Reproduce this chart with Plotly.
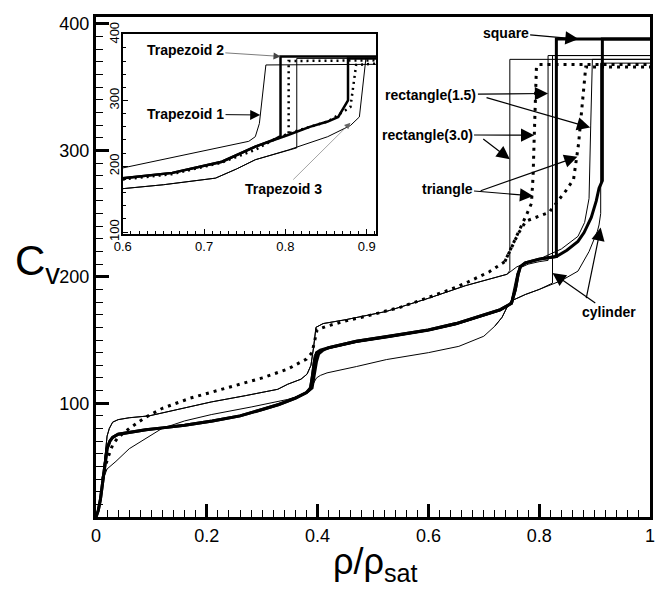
import plotly.graph_objects as go

# ---------------- main plot data (rho/rho_sat , Cv) ----------------
square_x = [0.0, 0.004, 0.008, 0.012, 0.016, 0.02, 0.025, 0.03, 0.04, 0.06, 0.09, 0.12, 0.16, 0.21, 0.26, 0.3,
            0.33, 0.36, 0.38, 0.387, 0.391, 0.394, 0.398, 0.405, 0.42, 0.47, 0.53, 0.6, 0.65, 0.7, 0.73, 0.75,
            0.757, 0.762, 0.766, 0.775, 0.8, 0.831, 0.831, 1.0]
square_y = [10, 15, 24, 36, 50, 64, 70, 73, 75.5, 77, 79, 80.5, 82.5, 86, 90, 95,
            99, 104, 108.5, 112, 122, 133, 140, 142, 144, 149, 153, 158, 163, 170, 174, 179,
            190, 202, 208, 211, 214, 216, 388, 388]

thick2_x = [0.0, 0.004, 0.008, 0.012, 0.016, 0.02, 0.025, 0.03, 0.04, 0.06, 0.09, 0.12, 0.16, 0.21, 0.26, 0.3,
            0.33, 0.36, 0.38, 0.39, 0.394, 0.398, 0.402, 0.41, 0.42, 0.47, 0.53, 0.6, 0.65, 0.7, 0.73, 0.75,
            0.757, 0.762, 0.766, 0.775, 0.8, 0.831, 0.85, 0.87, 0.881, 0.894, 0.903, 0.908, 0.914, 0.914, 1.0]
thick2_y = [10, 15, 24, 36, 50, 64, 70, 73, 75.5, 77, 79, 80.5, 82.5, 86, 90, 95,
            99, 104, 108.5, 112, 124, 133, 139, 142, 144, 149, 153, 158, 163, 170, 174, 179,
            190, 202, 208, 211, 214, 216, 221, 228, 235, 247, 260, 270, 276, 388, 388]

dot1_x = [0.012, 0.016, 0.02, 0.025, 0.03, 0.04, 0.06, 0.09, 0.12, 0.17, 0.226, 0.257, 0.3, 0.346, 0.38, 0.39,
          0.395, 0.399, 0.417, 0.45, 0.494, 0.55, 0.596, 0.64, 0.672, 0.71, 0.738, 0.75, 0.765, 0.778, 0.786,
          0.789, 0.791, 0.793, 0.795, 0.8, 1.0]
dot1_y = [40, 48, 55, 61, 67, 73, 80, 89, 96, 104, 111, 115, 120, 127, 135, 140,
          150, 158, 161, 165, 169.5, 176, 183, 190, 196, 204, 212, 223, 238, 250, 258,
          280, 310, 340, 366, 368, 368]

dot2_x = [0.738, 0.75, 0.762, 0.776, 0.818, 0.848, 0.862, 0.871, 0.876, 0.88, 0.884, 1.0]
dot2_y = [212, 223, 234, 244, 251, 268, 277, 305, 330, 352, 366, 366]

thinup_x = [0.0, 0.006, 0.011, 0.015, 0.018, 0.02, 0.024, 0.03, 0.04, 0.06, 0.096, 0.167, 0.208, 0.27, 0.328,
            0.346, 0.37, 0.381, 0.388, 0.393, 0.397, 0.41, 0.45, 0.524, 0.6, 0.667, 0.71, 0.742, 0.747, 0.747, 1.0]
thinup_y = [10, 20, 35, 52, 65, 74, 80, 85, 87, 88.5, 90, 97, 101, 106, 111,
            115, 119, 123, 130, 145, 160, 163, 166, 172.6, 183, 193, 198, 202, 205, 372, 372]

rect15b_x = [0.0, 0.006, 0.011, 0.015, 0.018, 0.02, 0.024, 0.03, 0.04, 0.06, 0.096, 0.167, 0.208, 0.27, 0.328,
             0.346, 0.37, 0.381, 0.388, 0.393, 0.397, 0.41, 0.45, 0.524, 0.6, 0.667, 0.71, 0.742, 0.76, 0.8,
             0.84, 0.87, 0.882, 0.89, 0.893, 0.896, 1.0]
rect15b_y = [10, 20, 35, 52, 65, 74, 80, 85, 87, 88.5, 90, 97, 101, 106, 111,
             115, 119, 123, 130, 145, 160, 163, 166, 172.6, 183, 193, 198, 202, 208, 214,
             222, 232, 243, 262, 320, 372, 372]

rect15a_x = [0.36, 0.38, 0.386, 0.39, 0.394, 0.4, 0.42, 0.47, 0.53, 0.6, 0.65, 0.7, 0.73, 0.748, 0.755, 0.76,
             0.765, 0.78, 0.8, 0.816, 0.816, 1.0]
rect15a_y = [104, 108.5, 113, 126, 138, 141, 143, 148, 152, 157, 162, 169, 173, 178, 192, 203,
             207, 210, 212, 213, 375, 375]

thinlow_x = [0.0, 0.004, 0.008, 0.012, 0.02, 0.036, 0.06, 0.09, 0.119, 0.16, 0.208, 0.28, 0.346, 0.375, 0.387,
             0.393, 0.398, 0.405, 0.417, 0.47, 0.524, 0.6, 0.655, 0.7, 0.72, 0.733, 0.742, 0.75, 0.775, 0.8,
             0.84, 0.87, 0.89, 0.905, 0.908, 0.911, 0.911, 1.0]
thinlow_y = [10, 16, 25, 39, 48, 54, 64, 72, 80, 86, 91, 97, 103, 107, 110,
             116, 120, 122, 124, 129, 134.5, 140, 145, 153, 161, 168, 176, 181, 186, 190,
             197, 204.5, 220, 236, 241, 250, 369, 369]

cyl2_x = [0.72, 0.733, 0.742, 0.75, 0.775, 0.8, 0.824, 0.824, 1.0]
cyl2_y = [161, 168, 176, 181, 186, 190, 195, 375, 375]

# ---------------- inset data ----------------
inA_x = [0.6, 0.657, 0.706, 0.74, 0.755, 0.763, 0.768, 0.776, 0.912]
inA_y = [197.5, 212, 225, 234, 238, 245, 265, 354, 355]
inB_x = [0.6, 0.661, 0.722, 0.763, 0.785, 0.792, 0.794, 0.794, 0.912]
inB_y = [182, 190, 207, 230, 240, 244, 246, 367, 367]
inB2_x = [0.6, 0.661, 0.722, 0.763, 0.804, 0.83, 0.852, 0.865, 0.877, 0.877, 0.912]
inB2_y = [182, 190, 207, 230, 248, 260, 268, 275, 300, 364, 364]
inC_x = [0.6, 0.66, 0.72, 0.763, 0.785, 0.798, 0.804, 0.804, 0.912]
inC_y = [180, 188, 205, 225, 240, 246, 250, 360, 361]
inC2_x = [0.785, 0.804, 0.83, 0.852, 0.861, 0.88, 0.887, 0.912]
inC2_y = [240, 250, 260, 268, 275, 290, 354, 356]
inD_x = [0.6, 0.65, 0.714, 0.74, 0.763, 0.804, 0.852, 0.88, 0.891, 0.899, 0.912]
inD_y = [166, 172, 182, 196, 210, 225, 245, 262, 275, 364, 364]
inD2_x = [0.6, 0.65, 0.714, 0.74, 0.763, 0.804, 0.814, 0.814, 0.912]
inD2_y = [166, 172, 182, 196, 210, 225, 228, 364, 364]

FONT = "Liberation Sans, Arial, sans-serif"
DOT = "3px,5px"

fig = go.Figure()


def add(x, y, w, dash="solid", xa="x", ya="y"):
    fig.add_trace(go.Scatter(x=x, y=y, mode="lines", xaxis=xa, yaxis=ya,
                             line=dict(color="black", width=w, dash=dash),
                             showlegend=False, hoverinfo="skip"))


add(thinup_x, thinup_y, 1)
add(rect15b_x, rect15b_y, 1)
add(rect15a_x, rect15a_y, 1)
add(thinlow_x, thinlow_y, 1)
add(cyl2_x, cyl2_y, 1)
add(dot1_x, dot1_y, 3, DOT)
add(dot2_x, dot2_y, 3, DOT)
add(thick2_x, thick2_y, 3)
add(square_x, square_y, 3)

add(inA_x, inA_y, 1, xa="x2", ya="y2")
add(inD_x, inD_y, 1, xa="x2", ya="y2")
add(inD2_x, inD2_y, 1, xa="x2", ya="y2")
add(inC_x, inC_y, 2.5, "2px,4px", xa="x2", ya="y2")
add(inC2_x, inC2_y, 2.5, "2px,4px", xa="x2", ya="y2")
add(inB2_x, inB2_y, 2.5, xa="x2", ya="y2")
add(inB_x, inB_y, 2.5, xa="x2", ya="y2")

# pixel geometry
L, R, T, B = 96, 655, 8, 517
YMIN, YMAX = 10, 405.5
IL, IR, IT, IB = 123, 379, 25, 229
IXMIN, IXMAX, IYMIN, IYMAX = 0.6, 0.912, 97, 401.5


def mpx(x, y):
    return L + x * (R - L), B - (y - YMIN) * (B - T) / (YMAX - YMIN)


def ipx(x, y):
    return (IL + (x - IXMIN) * (IR - IL) / (IXMAX - IXMIN),
            IB - (y - IYMIN) * (IB - IT) / (IYMAX - IYMIN))


anns = []


def label(text, cx, cy, tipx, tipy, inset=False, size=14, width=1.2, asize=2.2, color="black"):
    px, py = (ipx if inset else mpx)(tipx, tipy)
    anns.append(dict(x=tipx, y=tipy, xref="x2" if inset else "x", yref="y2" if inset else "y",
                     text="<b>%s</b>" % text, showarrow=True, ax=cx - px, ay=cy - py,
                     arrowhead=2, arrowsize=asize, arrowwidth=width, arrowcolor=color,
                     font=dict(family=FONT, size=size, color="black")))


label("square", 510, 24, 0.871, 388)
label("rectangle(1.5)", 435, 87, 0.816, 345)
label(" ", 489, 90, 0.892, 318, size=4)
label("rectangle(3.0)", 431, 128, 0.791, 312)
label(" ", 485, 131, 0.747, 293, size=4)
label("triangle", 451, 183, 0.789, 264)
label(" ", 483, 185, 0.869, 295, size=4)
label("cylinder", 613, 308, 0.824, 203)
label(" ", 590, 297, 0.911, 239, size=4)
label("Trapezoid 2", 187, 42, 0.794, 367, inset=True, width=0.7, asize=2, color="#444")
label("Trapezoid 1", 187, 107, 0.769, 278, inset=True, width=1, asize=2)
label("Trapezoid 3", 286, 182, 0.88, 266, inset=True, width=0.6, asize=2, color="#666")

anns.append(dict(x=(37 - L) / (R - L), y=(B - 259) / (B - T), xref="paper", yref="paper", showarrow=False,
                 xanchor="center", yanchor="middle",
                 text="C<sub>v</sub>", font=dict(family=FONT, size=42, color="black")))
anns.append(dict(x=(378 - L) / (R - L), y=(B - 565) / (B - T), xref="paper", yref="paper", showarrow=False,
                 xanchor="center", yanchor="middle",
                 text="ρ/ρ<sub>sat</sub>", font=dict(family=FONT, size=36, color="black")))

main_ax = dict(showline=True, linewidth=3, linecolor="black", mirror=True, showgrid=False, zeroline=False,
               ticks="inside", tickwidth=2.5, ticklen=13, tickcolor="black",
               tickfont=dict(family=FONT, size=18, color="black"))
in_ax = dict(showline=True, linewidth=1.5, linecolor="black", mirror=True, showgrid=False, zeroline=False,
             ticks="inside", tickwidth=1, ticklen=5, tickcolor="black",
             tickfont=dict(family=FONT, size=13, color="black"))

fig.update_layout(
    width=660, height=591, margin=dict(l=L, r=660 - R, t=T, b=591 - B),
    paper_bgcolor="white", plot_bgcolor="white", showlegend=False,
    xaxis=dict(main_ax, range=[0, 1], tick0=0, dtick=0.2, domain=[0, 1],
               minor=dict(ticks="inside", ticklen=7, tickwidth=1.2, dtick=0.02, tickcolor="black")),
    yaxis=dict(main_ax, range=[YMIN, YMAX], tick0=0, dtick=100, domain=[0, 1],
               minor=dict(ticks="inside", ticklen=7, tickwidth=1.2, dtick=10, tickcolor="black")),
    xaxis2=dict(in_ax, range=[IXMIN, IXMAX], tick0=0.6, dtick=0.1, anchor="y2",
                domain=[(IL - L) / (R - L), (IR - L) / (R - L)],
                minor=dict(ticks="inside", ticklen=3, tickwidth=0.8, dtick=0.01, tickcolor="black")),
    yaxis2=dict(in_ax, range=[IYMIN, IYMAX], tick0=0, dtick=100, anchor="x2", tickangle=-90,
                ticklabelstandoff=-3,
                domain=[(B - IB) / (B - T), (B - IT) / (B - T)],
                minor=dict(ticks="inside", ticklen=3, tickwidth=0.8, dtick=20, tickcolor="black")),
    annotations=anns,
)

fig.write_html("out.html")
